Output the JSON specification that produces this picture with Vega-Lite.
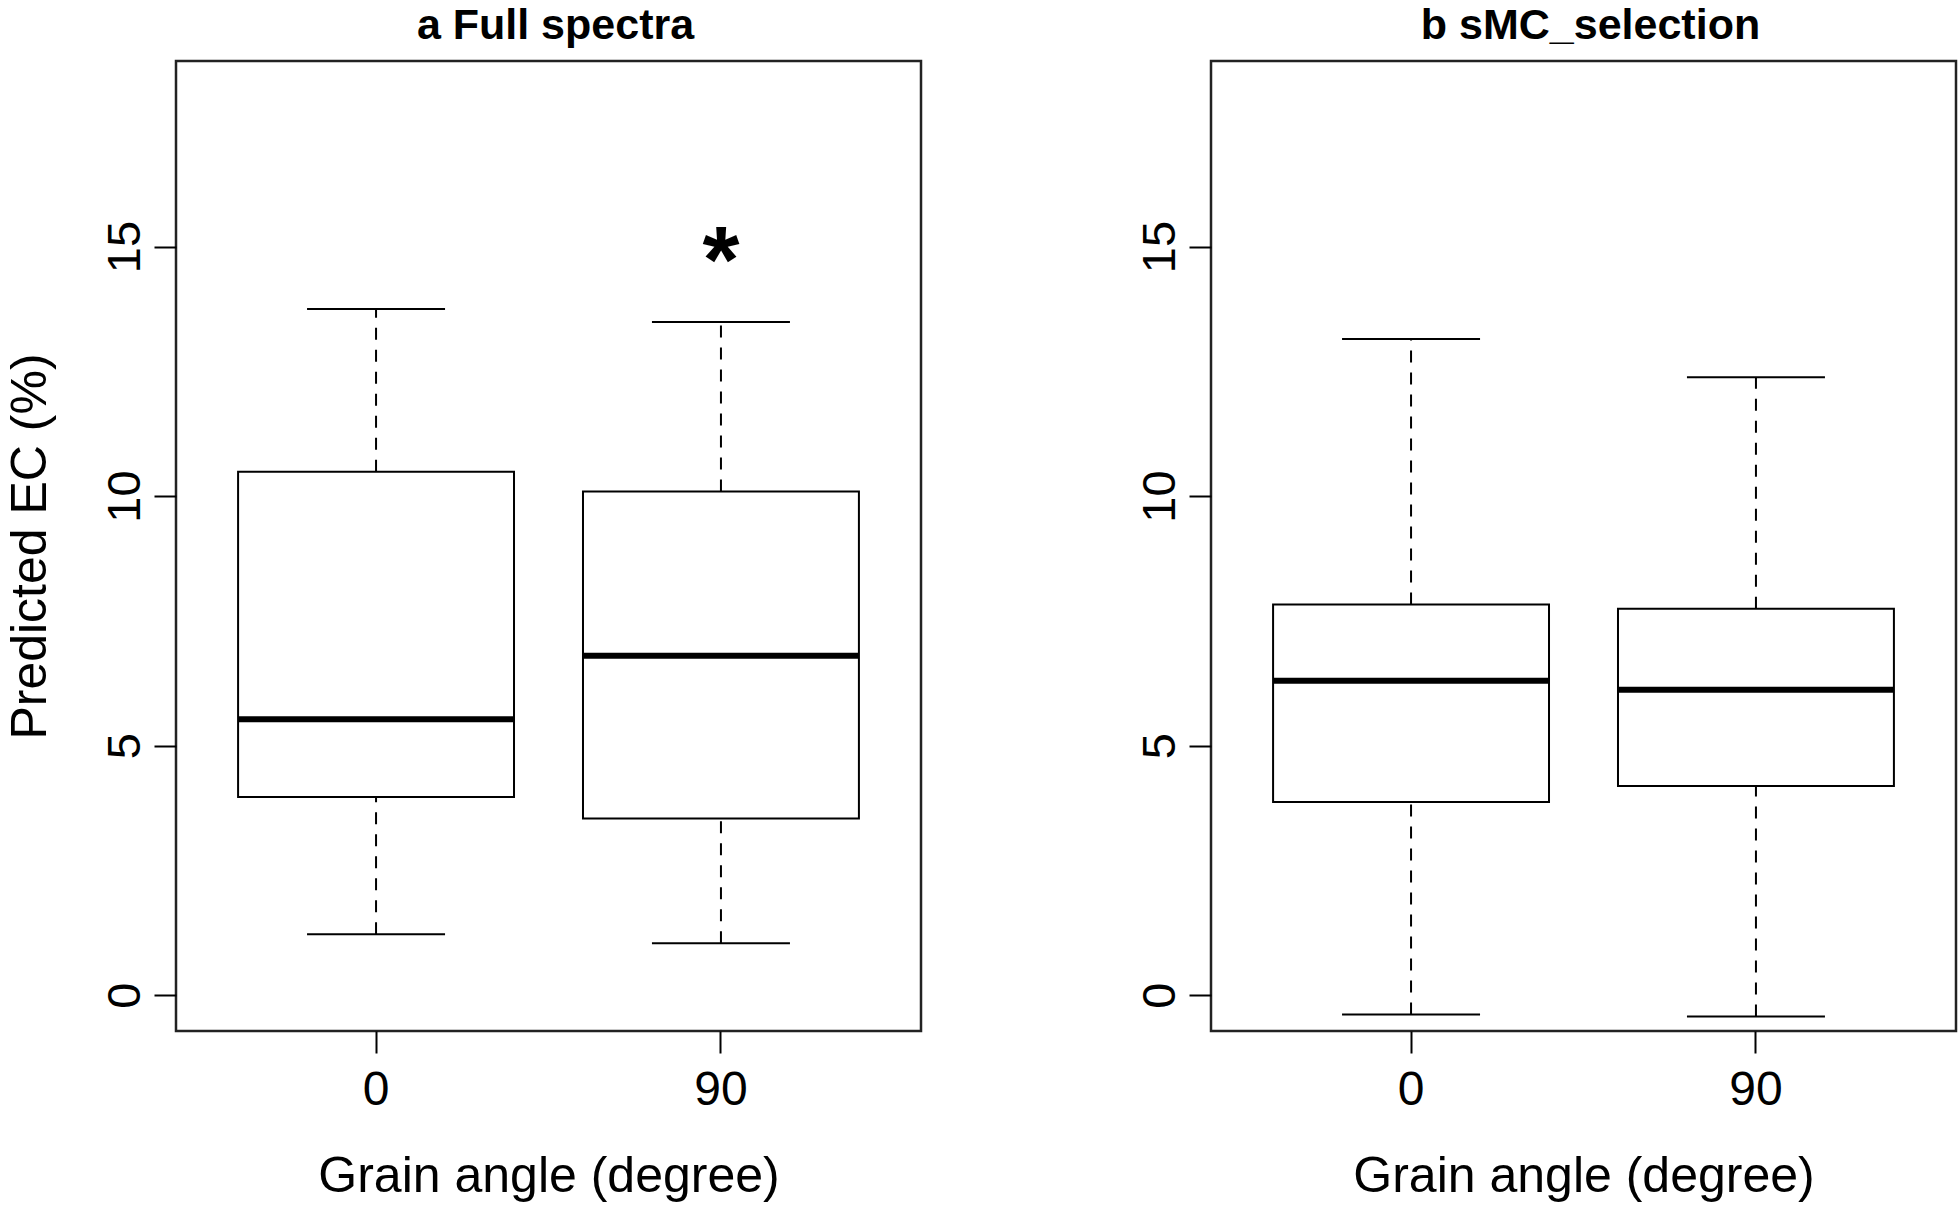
{
  "$schema": "https://vega.github.io/schema/vega-lite/v6.json",
  "background": "white",
  "padding": {"left": 3, "top": 3, "right": 0, "bottom": 0},
  "config": {
    "font": "Liberation Sans",
    "view": {"stroke": "#222222", "strokeWidth": 2.5},
    "title": {"fontSize": 43, "fontWeight": "bold", "color": "black", "baseline": "alphabetic", "offset": 13, "frame": "group", "anchor": "middle", "dx": 7},
    "axisX": {"labelAngle": 0, "labelFontSize": 48, "labelColor": "black", "labelFont": "Liberation Sans", "tickSize": 22, "tickWidth": 2, "tickColor": "black", "labelPadding": 13, "titleFontSize": 50, "titleFontWeight": "normal", "titleColor": "black", "titlePadding": 37, "domain": false, "grid": false},
    "axisY": {"labelAngle": -90, "labelFontSize": 47, "labelColor": "black", "tickSize": 22, "tickWidth": 2, "tickColor": "black", "labelPadding": 5, "titleFontSize": 50, "titleFontWeight": "normal", "titleColor": "black", "titlePadding": 46, "domain": false, "grid": false}
  },
  "datasets": {
    "stats": [
      {"panel": "a", "angle": "0", "lower": 1.22, "q1": 3.97, "median": 5.53, "q3": 10.49, "upper": 13.75},
      {"panel": "a", "angle": "90", "lower": 1.04, "q1": 3.54, "median": 6.80, "q3": 10.09, "upper": 13.49},
      {"panel": "b", "angle": "0", "lower": -0.39, "q1": 3.87, "median": 6.30, "q3": 7.83, "upper": 13.15},
      {"panel": "b", "angle": "90", "lower": -0.43, "q1": 4.19, "median": 6.12, "q3": 7.74, "upper": 12.38}
    ],
    "signif": [
      {"panel": "a", "angle": "90", "y": 15, "label": "*"}
    ]
  },
  "spacing": 290,
  "bounds": "flush",
  "hconcat": [
    {
      "width": 745,
      "height": 970,
      "title": "a Full spectra",
      "data": {"name": "stats"},
      "transform": [{"filter": "datum.panel === 'a'"}],
      "encoding": {
        "x": {"field": "angle", "type": "nominal", "sort": ["0", "90"], "scale": {"type": "band", "paddingInner": 0.2, "paddingOuter": 0.18}, "axis": {"title": "Grain angle (degree)"}}
      },
      "layer": [
        {"mark": {"type": "rule", "color": "black", "strokeWidth": 2, "strokeDash": [12, 10]},
         "encoding": {"y": {"field": "lower", "type": "quantitative", "scale": {"domain": [-0.72, 18.72], "nice": false, "zero": false}, "axis": {"title": "Predicted EC (%)", "values": [0, 5, 10, 15]}}, "y2": {"field": "q1"}}},
        {"mark": {"type": "rule", "color": "black", "strokeWidth": 2, "strokeDash": [12, 10]},
         "encoding": {"y": {"field": "q3", "type": "quantitative"}, "y2": {"field": "upper"}}},
        {"mark": {"type": "bar", "fill": "white", "stroke": "black", "strokeWidth": 2},
         "encoding": {"y": {"field": "q1", "type": "quantitative"}, "y2": {"field": "q3"}}},
        {"mark": {"type": "tick", "color": "black", "size": 276, "thickness": 6, "opacity": 1},
         "encoding": {"y": {"field": "median", "type": "quantitative"}}},
        {"mark": {"type": "tick", "color": "black", "size": 138, "thickness": 2, "opacity": 1},
         "encoding": {"y": {"field": "lower", "type": "quantitative"}}},
        {"mark": {"type": "tick", "color": "black", "size": 138, "thickness": 2, "opacity": 1},
         "encoding": {"y": {"field": "upper", "type": "quantitative"}}},
        {"data": {"name": "signif"},
         "mark": {"type": "text", "fontSize": 95, "fontWeight": "bold", "color": "black", "baseline": "alphabetic", "align": "center", "dy": 45},
         "encoding": {"y": {"field": "y", "type": "quantitative"}, "text": {"field": "label"}}}
      ]
    },
    {
      "width": 745,
      "height": 970,
      "title": "b sMC_selection",
      "data": {"name": "stats"},
      "transform": [{"filter": "datum.panel === 'b'"}],
      "encoding": {
        "x": {"field": "angle", "type": "nominal", "sort": ["0", "90"], "scale": {"type": "band", "paddingInner": 0.2, "paddingOuter": 0.18}, "axis": {"title": "Grain angle (degree)"}}
      },
      "layer": [
        {"mark": {"type": "rule", "color": "black", "strokeWidth": 2, "strokeDash": [12, 10]},
         "encoding": {"y": {"field": "lower", "type": "quantitative", "scale": {"domain": [-0.72, 18.72], "nice": false, "zero": false}, "axis": {"title": null, "values": [0, 5, 10, 15]}}, "y2": {"field": "q1"}}},
        {"mark": {"type": "rule", "color": "black", "strokeWidth": 2, "strokeDash": [12, 10]},
         "encoding": {"y": {"field": "q3", "type": "quantitative"}, "y2": {"field": "upper"}}},
        {"mark": {"type": "bar", "fill": "white", "stroke": "black", "strokeWidth": 2},
         "encoding": {"y": {"field": "q1", "type": "quantitative"}, "y2": {"field": "q3"}}},
        {"mark": {"type": "tick", "color": "black", "size": 276, "thickness": 6, "opacity": 1},
         "encoding": {"y": {"field": "median", "type": "quantitative"}}},
        {"mark": {"type": "tick", "color": "black", "size": 138, "thickness": 2, "opacity": 1},
         "encoding": {"y": {"field": "lower", "type": "quantitative"}}},
        {"mark": {"type": "tick", "color": "black", "size": 138, "thickness": 2, "opacity": 1},
         "encoding": {"y": {"field": "upper", "type": "quantitative"}}}
      ]
    }
  ]
}
